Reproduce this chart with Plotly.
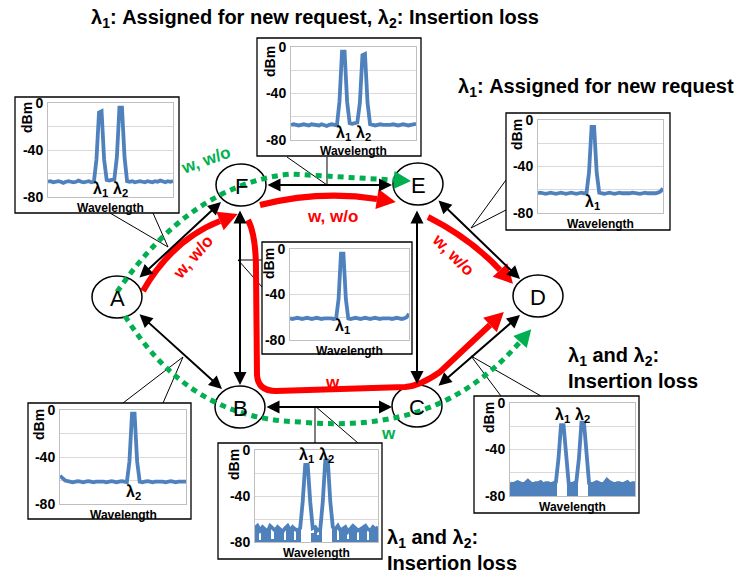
import math
import plotly.graph_objects as go

W, H = 736, 573
FONT = "Liberation Sans, Arial, sans-serif"
BLUE = "#4F81BD"
RED = "#FF0000"
GREEN = "#00B050"
GRID = "#D9D9D9"
FRAME = "#BFBFBF"

# ---------------- data: spectra (dBm) sampled over wavelength index ----------------
IDX = list(range(50))
YMIN, YMAX = -80, 0
Y_TICKS = [0, -40, -80]
Y_TICK_TEXT = ["0", "-40", "-80"]
Y_MINOR_GRID = [-20, -60]

SPEC_AF = [-67, -66.5, -67.5, -67, -66.5, -67, -68, -67, -66.5, -67,
           -67.5, -67, -66, -67, -67.5, -67, -66.5, -67.5, -67, -48,
           -8, -7, -48, -65.5, -66, -65.5, -65, -46, -4, -4,
           -46, -66.5, -67, -66.5, -67.5, -67, -66.5, -67, -67.5, -66.5,
           -67, -67.5, -66.5, -67, -66, -67, -67.5, -66.5, -67, -66.5]

SPEC_FE = [-67, -66.5, -67, -67.5, -67, -66.5, -67, -67.5, -66.5, -67,
           -67, -67.5, -66.5, -67, -68, -67, -66.5, -67, -67.5, -47,
           -4, -4, -47, -65.5, -66, -65.5, -65, -48, -7, -6,
           -48, -66.5, -67, -67.5, -67, -66.5, -67, -67, -67.5, -67,
           -66.5, -67, -67.5, -67, -66.5, -67, -67.5, -67, -66.5, -66]

SPEC_ED = [-63, -62.5, -63, -63.5, -63, -62.5, -63, -63.5, -63, -62.5,
           -63, -63.5, -63, -62.5, -63, -63.5, -63, -62.5, -63, -63,
           -45, -6, -6, -45, -62.5, -63, -63.5, -63, -62.5, -63,
           -63.5, -63, -62.5, -63, -63, -63.5, -63, -62.5, -63, -63,
           -63.5, -63, -62.5, -63, -63, -63.5, -63, -62.5, -61.5, -59]

SPEC_FB = [-61, -61.5, -61, -60.5, -61, -61.5, -61, -60.5, -61, -61.5,
           -61, -60.5, -61, -61.5, -61, -61, -60.5, -61, -61.5, -61,
           -44, -4, -4, -44, -61, -61.5, -61, -60.5, -61, -61.5,
           -61, -60.5, -61, -61.5, -61, -60.5, -61, -61.5, -61, -61,
           -60.5, -61, -61.5, -61, -60.5, -61, -61.5, -61, -60, -57]

SPEC_AB = [-56, -58.5, -60, -60.5, -61, -61.5, -61, -60.5, -61, -61.5,
           -61, -60.5, -61, -61.5, -61, -61, -60.5, -61, -61.5, -61,
           -60.5, -61, -61.5, -61, -60.5, -61, -61.5, -44, -3, -3,
           -44, -61, -61.5, -61, -60.5, -61, -61.5, -61, -61, -60.5,
           -61, -61.5, -61, -60.5, -61, -61.5, -61, -61, -60.5, -61]

SPEC_BC = [-68, -66, -70, -67, -69, -71, -66, -68, -70, -67,
           -69, -71, -68, -66, -70, -67, -69, -70, -68, -45,
           -13, -13, -45, -68, -67, -70, -69, -45, -9, -9,
           -45, -67, -69, -66, -70, -68, -67, -71, -69, -66,
           -68, -70, -69, -67, -66, -69, -70, -67, -69, -67]
BAND_BC = [-68, -66, -78, -67, -69, -71, -66, -77, -70, -67,
           -69, -71, -79, -66, -70, -67, -78, -70, -68, -80,
           -80, -80, -80, -72, -67, -74, -69, -80, -80, -80,
           -80, -67, -69, -79, -70, -68, -67, -77, -69, -66,
           -68, -79, -69, -67, -66, -78, -70, -67, -69, -67]

SPEC_CD = [-69, -70, -69, -68, -69, -70, -69, -67, -69, -70,
           -69, -69, -68, -70, -69, -69, -70, -69, -68, -48,
           -19, -19, -48, -69, -70, -69, -68, -48, -17, -17,
           -48, -69, -70, -69, -68, -69, -70, -69, -66, -68,
           -69, -70, -69, -69, -70, -69, -68, -70, -69, -69]
BAND_CD = [-69, -70, -69, -68, -69, -70, -69, -67, -69, -70,
           -69, -69, -68, -70, -69, -69, -70, -69, -68, -80,
           -80, -80, -80, -69, -68, -69, -68, -80, -80, -80,
           -80, -69, -70, -69, -68, -69, -70, -69, -66, -68,
           -69, -70, -69, -69, -70, -69, -68, -70, -69, -69]

L1 = "λ<sub>1</sub>"
L2 = "λ<sub>2</sub>"

# ---------------- layout geometry (pixels) ----------------
INSETS = [
    dict(box=(15, 97, 179, 213), plot=(48, 103, 173, 197), spec=SPEC_AF, band=None,
         labels=[(L1, 20.5, -74), (L2, 28.5, -74)]),
    dict(box=(257, 38, 421, 156), plot=(291, 47, 416, 140), spec=SPEC_FE, band=None,
         labels=[(L1, 20.5, -74), (L2, 28.5, -74)]),
    dict(box=(506, 113, 670, 230), plot=(538, 120, 663, 213), spec=SPEC_ED, band=None,
         labels=[(L1, 21.5, -71)]),
    dict(box=(262, 242, 412, 354), plot=(290, 249, 409, 340), spec=SPEC_FB, band=None,
         labels=[(L1, 21.5, -68)]),
    dict(box=(28, 403, 191, 519), plot=(60, 410, 186, 504), spec=SPEC_AB, band=None,
         labels=[(L2, 28.5, -70)]),
    dict(box=(218, 443, 382, 559), plot=(255, 450, 378, 542), spec=SPEC_BC, band=BAND_BC,
         labels=[(L1, 20.5, -5), (L2, 28.5, -5)]),
    dict(box=(474, 396, 639, 513), plot=(510, 403, 635, 496), spec=SPEC_CD, band=BAND_CD,
         labels=[(L1, 20.5, -11), (L2, 28.5, -11)]),
]

NODES = {"A": (117, 297), "B": (240, 407), "C": (417, 406),
         "D": (538, 296), "E": (418, 184), "F": (241, 185)}
NODE_RX, NODE_RY = 25, 21

BLACK_LINKS = [((138, 279), (221, 202)), ((138, 313), (222, 389)),
               ((266, 185), (392, 185)), ((240, 209), (240, 385)),
               ((417, 209), (417, 384)), ((265, 407), (392, 407)),
               ((437, 199), (520, 279)), ((437, 387), (520, 315))]

CALLOUTS = [[(110, 213), (168, 247), (153, 213)],
            [(287, 157), (327, 185), (327, 157)],
            [(506, 180), (471, 228), (506, 210)],
            [(262, 260), (238, 260), (262, 287)],
            [(123, 403), (183, 357), (163, 403)],
            [(315, 443), (315, 406), (358, 443)],
            [(501, 396), (471, 356), (541, 396)]]


def fx(x):
    return x / W


def fy(y):
    return 1 - y / H


def path(cmds):
    out = []
    for c in cmds:
        op, pts = c[0], c[1:]
        out.append(op + " " + " ".join(f"{fx(x):.5f},{fy(y):.5f}" for x, y in pts))
    return " ".join(out)


def head(end, ctrl, length, half):
    dx, dy = end[0] - ctrl[0], end[1] - ctrl[1]
    n = math.hypot(dx, dy)
    dx, dy = dx / n, dy / n
    tip = (end[0] + dx * length, end[1] + dy * length)
    b1 = (end[0] - dy * half, end[1] + dx * half)
    b2 = (end[0] + dy * half, end[1] - dx * half)
    return path([("M", tip), ("L", b1), ("L", b2)]) + " Z"


shapes = []


def add_shape(**kw):
    kw.setdefault("xref", "paper")
    kw.setdefault("yref", "paper")
    kw["layer"] = "below"
    shapes.append(kw)


for pts in CALLOUTS:
    add_shape(type="path", path=path([("M", pts[0]), ("L", pts[1]), ("L", pts[2])]),
              line=dict(color="black", width=1))
for name, (cx, cy) in NODES.items():
    add_shape(type="circle", x0=fx(cx - NODE_RX), x1=fx(cx + NODE_RX),
              y0=fy(cy + NODE_RY), y1=fy(cy - NODE_RY),
              line=dict(color="black", width=1.5), fillcolor="white")

RED_ROUTES = [
    ([("M", (143, 291)), ("Q", (172, 240), (220, 221))], (172, 240), (220, 221)),
    ([("M", (260, 205)), ("Q", (320, 190), (377, 199))], (320, 190), (377, 199)),
    ([("M", (428, 217)), ("Q", (470, 238), (500, 270))], (470, 238), (500, 270)),
    ([("M", (248, 220)), ("Q", (256, 235), (256, 270)), ("L", (257, 375)),
      ("Q", (258, 391), (276, 391)), ("L", (405, 387)), ("Q", (420, 386), (440, 372)),
      ("L", (490, 325))], (440, 372), (490, 325)),
]
for cmds, ctrl, end in RED_ROUTES:
    add_shape(type="path", path=path(cmds), line=dict(color=RED, width=6))
    add_shape(type="path", path=head(end, ctrl, 19, 10), line=dict(width=0), fillcolor=RED)

GREEN_ROUTES = [
    ([("M", (117, 292)), ("Q", (190, 185), (290, 174)), ("L", (394, 180))], (290, 174), (394, 180)),
    ([("M", (125, 316)), ("C", (165, 380), (220, 420), (300, 422)),
      ("C", (390, 430), (460, 410), (520, 342))], (460, 410), (520, 342)),
]
for cmds, ctrl, end in GREEN_ROUTES:
    add_shape(type="path", path=path(cmds), line=dict(color=GREEN, width=5, dash="6px,5px"))
    add_shape(type="path", path=head(end, ctrl, 17, 9), line=dict(width=0), fillcolor=GREEN)

for ins in INSETS:
    x0, y0, x1, y1 = ins["box"]
    add_shape(type="rect", x0=fx(x0), x1=fx(x1), y0=fy(y1), y1=fy(y0),
              line=dict(color="black", width=1.3), fillcolor="white")

annotations = []


def text(x, y, s, size, color="black", bold=True, angle=0, xanchor="center", align="center"):
    annotations.append(dict(x=fx(x), y=fy(y), xref="paper", yref="paper", text=s,
                            showarrow=False, textangle=angle, xanchor=xanchor, yanchor="middle",
                            align=align,
                            font=dict(family=FONT, size=size, color=color,
                                      weight="bold" if bold else "normal")))


for p, q in BLACK_LINKS:
    annotations.append(dict(x=fx(q[0]), y=fy(q[1]), xref="paper", yref="paper",
                            ax=p[0] - q[0], ay=p[1] - q[1], text="", showarrow=True,
                            arrowhead=2, startarrowhead=2, arrowside="end+start",
                            arrowsize=1.3, startarrowsize=1.3, arrowwidth=2,
                            arrowcolor="black", standoff=0, startstandoff=0))

for name, (cx, cy) in NODES.items():
    text(cx, cy + 1, name, 22, bold=False)

text(315, 18, f"{L1}: Assigned for new request, {L2}: Insertion loss", 20)
text(456, 88, f"{L1}: Assigned for new request", 20, xanchor="left")
text(566, 368, f"{L1} and {L2}:<br>Insertion loss", 20, xanchor="left", align="left")
text(385, 550, f"{L1} and {L2}:<br>Insertion loss", 20, xanchor="left", align="left")

text(205, 160, "w, w/o", 17, GREEN, angle=-20)
text(332, 217, "w, w/o", 17, RED)
text(193, 258, "w, w/o", 17, RED, angle=-49)
text(453, 254, "w, w/o", 17, RED, angle=45)
text(332, 383, "w", 17, RED)
text(388, 433, "w", 17, GREEN)

fig = go.Figure()
layout_axes = {}
for k, ins in enumerate(INSETS):
    s = "" if k == 0 else str(k + 1)
    x0, y0, x1, y1 = ins["plot"]
    if ins["band"] is not None:
        fig.add_trace(go.Bar(x=IDX, y=[v - YMIN for v in ins["band"]], base=YMIN, width=1,
                             marker=dict(color=BLUE, line=dict(width=0)),
                             xaxis=f"x{s}", yaxis=f"y{s}", hoverinfo="skip", showlegend=False))
    fig.add_trace(go.Scatter(x=IDX, y=ins["spec"], mode="lines",
                             line=dict(color=BLUE, width=3.8),
                             xaxis=f"x{s}", yaxis=f"y{s}", hoverinfo="skip", showlegend=False))
    layout_axes[f"xaxis{s}"] = dict(domain=[fx(x0), fx(x1)], range=[IDX[0], IDX[-1]],
                                    anchor=f"y{s}", showticklabels=False, showgrid=False,
                                    zeroline=False, showline=True, mirror=True, automargin=False,
                                    linecolor=FRAME, linewidth=1, ticks="", fixedrange=True)
    layout_axes[f"yaxis{s}"] = dict(domain=[fy(y1), fy(y0)], range=[YMIN, YMAX],
                                    anchor=f"x{s}", tickvals=Y_TICKS, ticktext=Y_TICK_TEXT,
                                    showgrid=True, gridcolor=GRID, gridwidth=1,
                                    minor=dict(tickvals=Y_MINOR_GRID, showgrid=True,
                                               gridcolor=GRID, ticks=""),
                                    zeroline=False, showline=True, mirror=True, automargin=False,
                                    linecolor=FRAME, linewidth=1, ticks="",
                                    ticklabelstandoff=1, fixedrange=True,
                                    tickfont=dict(family=FONT, size=14, color="black",
                                                  weight="bold"))
    text(x0 - 21, y0 + 15, "dBm", 14, angle=-90)
    text((x0 + x1) / 2, y1 + 11, "Wavelength", 12)
    for lab, lx, ly in ins["labels"]:
        annotations.append(dict(x=lx, y=ly, xref=f"x{s}", yref=f"y{s}", text=lab,
                                showarrow=False, xanchor="center", yanchor="middle",
                                font=dict(family=FONT, size=16, color="black", weight="bold")))

fig.update_layout(**layout_axes)
fig.update_layout(template="none", width=W, height=H, autosize=False,
                  margin=dict(l=0, r=0, t=0, b=0, pad=0, autoexpand=False),
                  paper_bgcolor="white", plot_bgcolor="rgba(0,0,0,0)",
                  bargap=0, showlegend=False,
                  shapes=shapes, annotations=annotations,
                  font=dict(family=FONT))
fig.write_html("out.html", config={"displayModeBar": False},
               post_script="document.body.style.margin='0';document.body.style.overflow='hidden';")
